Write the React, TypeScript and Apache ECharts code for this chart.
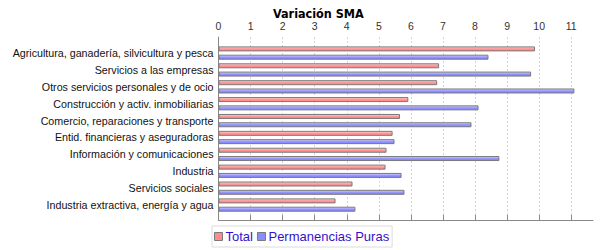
import React, { useEffect, useRef } from "react";
import * as echarts from "echarts";

const categories = [
  "Agricultura, ganadería, silvicultura y pesca",
  "Servicios a las empresas",
  "Otros servicios personales y de ocio",
  "Construcción y activ. inmobiliarias",
  "Comercio, reparaciones y transporte",
  "Entid. financieras y aseguradoras",
  "Información y comunicaciones",
  "Industria",
  "Servicios sociales",
  "Industria extractiva, energía y agua",
];
const totalValues = [9.87, 6.88, 6.82, 5.92, 5.66, 5.43, 5.24, 5.21, 4.18, 3.65];
const permanenciasValues = [8.42, 9.75, 11.1, 8.11, 7.89, 5.49, 8.76, 5.71, 5.8, 4.27];
const tickValues = [0, 1, 2, 3, 4, 5, 6, 7, 8, 9, 10, 11];
const axisMax = 11.68;

const FONT = "'Liberation Sans', Arial, sans-serif";

export default function App() {
  const ref = useRef<HTMLDivElement>(null);
  useEffect(() => {
    document.body.style.margin = "0";
    const chart = echarts.init(ref.current!, null, { renderer: "svg" });
    const grad = (a: string, b: string, c: string) =>
      new echarts.graphic.LinearGradient(0, 0, 0, 1, [
        { offset: 0, color: a },
        { offset: 0.45, color: b },
        { offset: 1, color: c },
      ]);
    const splitColors = tickValues.map(() => "#d4d4d4").concat(["rgba(0,0,0,0)"]);
    chart.setOption({
      animation: false,
      textStyle: { fontFamily: FONT },
      title: {
        text: "Variación SMA",
        left: 268,
        top: 2,
        textStyle: {
          fontFamily: "'Liberation Sans Narrow', 'DejaVu Sans Condensed', 'Liberation Sans', sans-serif",
          fontWeight: "bold",
          fontSize: 12.5,
          color: "#000",
        },
      },
      legend: {
        left: 212,
        top: 226,
        orient: "horizontal",
        selectedMode: false,
        padding: [4, 3, 4, 2],
        borderColor: "#dcdcdc",
        borderWidth: 1,
        itemWidth: 8,
        itemHeight: 8,
        itemGap: 4,
        icon: "rect",
        textStyle: { fontSize: 13, color: "#3311cc", fontFamily: FONT, padding: [0, 0, 0, -2] },
        data: [
          { name: "Total", itemStyle: { color: "#ff8c8c", borderColor: "#7a7a7a", borderWidth: 1 } },
          { name: "Permanencias Puras", itemStyle: { color: "#8c8cff", borderColor: "#7a7a7a", borderWidth: 1 } },
        ],
      },
      grid: [
        { left: 218.5, right: 7, top: 37, height: 183 },
        { left: 218.5, right: 7, top: 44.6, height: 168.9 },
      ],
      xAxis: [
        {
          gridIndex: 0,
          type: "value",
          position: "top",
          min: 0,
          max: axisMax,
          interval: 1,
          axisLine: { show: true, lineStyle: { color: "#888", width: 1 } },
          axisTick: { show: true, length: 5, customValues: tickValues, lineStyle: { color: "#888" } },
          axisLabel: {
            customValues: tickValues,
            fontSize: 10.5,
            color: "#333",
            margin: 6,
            fontFamily: FONT,
          },
          splitLine: { show: true, lineStyle: { color: splitColors, type: [2, 2], width: 1 } },
        },
        {
          gridIndex: 1,
          type: "value",
          min: 0,
          max: axisMax,
          show: false,
        },
      ],
      yAxis: [
        {
          gridIndex: 0,
          type: "value",
          min: 0,
          max: 1,
          axisLine: { show: true, lineStyle: { color: "#888", width: 1 } },
          axisTick: { show: false },
          axisLabel: { show: false },
          splitLine: { show: false },
        },
        {
          gridIndex: 1,
          type: "category",
          inverse: true,
          data: categories,
          axisLine: { show: false },
          axisTick: { show: false },
          axisLabel: { fontSize: 10.7, color: "#111", margin: 5, fontFamily: FONT },
        },
      ],
      series: [
        {
          name: "Total",
          type: "bar",
          xAxisIndex: 1,
          yAxisIndex: 1,
          data: totalValues,
          barWidth: 5,
          barGap: "66%",
          itemStyle: {
            color: grad("#ffd8d8", "#ff9a9a", "#ff8080"),
            borderColor: "#7a7a7a",
            borderWidth: 1,
          },
        },
        {
          name: "Permanencias Puras",
          type: "bar",
          xAxisIndex: 1,
          yAxisIndex: 1,
          data: permanenciasValues,
          barWidth: 5,
          barGap: "66%",
          itemStyle: {
            color: grad("#d8d8ff", "#9a9aff", "#7c7cff"),
            borderColor: "#7a7a7a",
            borderWidth: 1,
          },
        },
      ],
    });
    return () => chart.dispose();
  }, []);
  return <div ref={ref} style={{ width: 600, height: 250 }} />;
}
